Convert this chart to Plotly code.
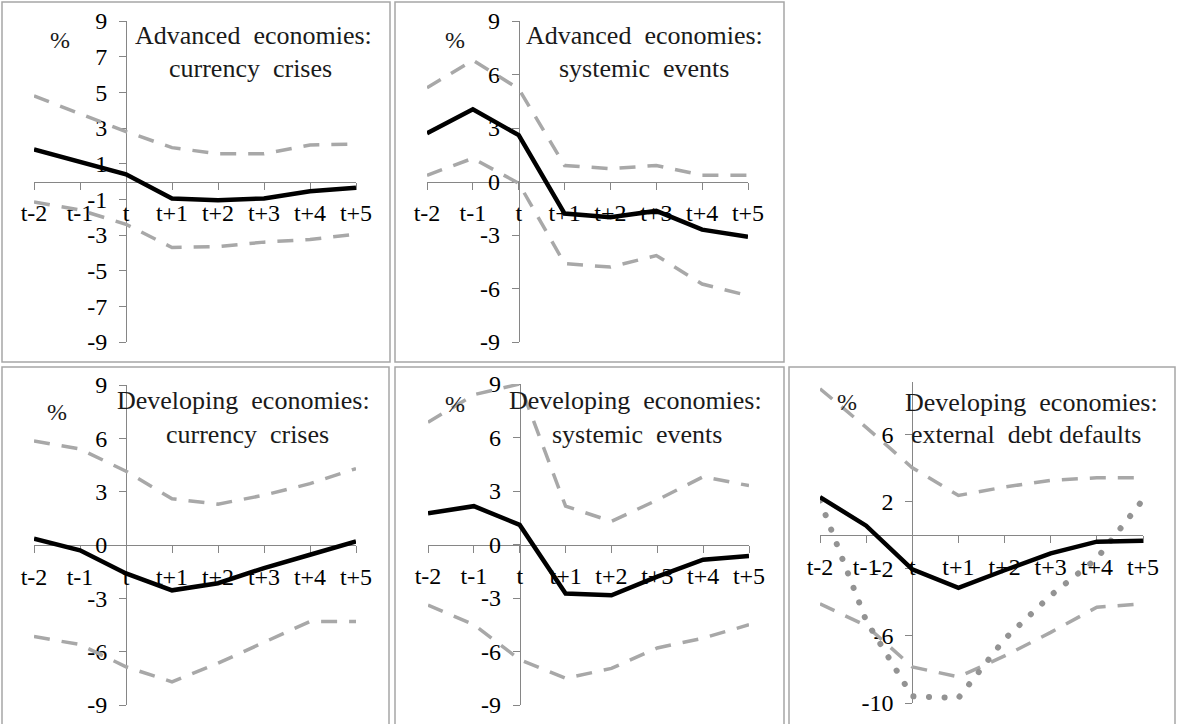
import plotly.graph_objects as go

# --- data (values in %) ---
cats = ["t-2", "t-1", "t", "t+1", "t+2", "t+3", "t+4", "t+5"]

adv_cur_mid = [1.8, 1.1, 0.4, -0.95, -1.05, -0.95, -0.55, -0.35]
adv_cur_hi = [4.8, 3.8, 2.8, 1.9, 1.55, 1.55, 2.05, 2.1]
adv_cur_lo = [-1.15, -1.6, -2.4, -3.7, -3.65, -3.4, -3.25, -2.95]

adv_sys_mid = [2.7, 4.05, 2.6, -1.8, -2.0, -1.65, -2.7, -3.1]
adv_sys_hi = [5.25, 6.8, 5.2, 0.9, 0.72, 0.9, 0.35, 0.35]
adv_sys_lo = [0.35, 1.3, -0.1, -4.6, -4.8, -4.15, -5.75, -6.4]

dev_cur_mid = [0.35, -0.3, -1.6, -2.55, -2.15, -1.3, -0.55, 0.2]
dev_cur_hi = [5.85, 5.4, 4.15, 2.6, 2.3, 2.8, 3.45, 4.3]
dev_cur_lo = [-5.15, -5.6, -6.85, -7.7, -6.65, -5.45, -4.3, -4.3]

dev_sys_mid = [1.75, 2.15, 1.1, -2.75, -2.85, -1.8, -0.85, -0.65]
dev_sys_hi = [6.85, 8.4, 9.0, 2.15, 1.3, 2.5, 3.8, 3.3]
dev_sys_lo = [-3.4, -4.5, -6.45, -7.5, -6.95, -5.8, -5.25, -4.5]

dev_def_mid = [2.25, 0.55, -2.05, -3.15, -2.1, -1.1, -0.4, -0.35]
dev_def_hi = [8.7, 6.4, 4.0, 2.35, 2.85, 3.25, 3.4, 3.4]
dev_def_lo = [-4.1, -5.4, -7.85, -8.45, -7.2, -5.8, -4.3, -4.1]
dev_def_dots = [2.05, -5.1, -9.6, -9.7, -6.2, -3.6, -1.4, 2.1]

# y tick values per panel
ticks_odd = [-9, -7, -5, -3, -1, 1, 3, 5, 7, 9]
ticks_3 = [-9, -6, -3, 0, 3, 6, 9]
ticks_4 = [-10, -6, -2, 2, 6]

titles = [
    ("Advanced\u00a0 economies:", "currency\u00a0 crises"),
    ("Advanced\u00a0 economies:", "systemic\u00a0 events"),
    ("Developing\u00a0 economies:", "currency\u00a0 crises"),
    ("Developing\u00a0 economies:", "systemic\u00a0 events"),
    ("Developing\u00a0 economies:", "external\u00a0 debt defaults"),
]

W, H = 1179, 724
FONT = "Liberation Serif, Times New Roman, serif"


def px(x):
    return x / W


def py(y):
    return 1 - y / H


panels = [
    dict(mid=adv_cur_mid, hi=adv_cur_hi, lo=adv_cur_lo, dots=None,
         yr=[-9, 9], yticks=ticks_odd,
         area=(34, 356, 21, 342), box=(2, 2, 390, 362),
         tpos=[(253, 35), (251, 69)], pct=(60, 40)),
    dict(mid=adv_sys_mid, hi=adv_sys_hi, lo=adv_sys_lo, dots=None,
         yr=[-9, 9], yticks=ticks_3,
         area=(427, 748, 21, 342), box=(395, 2, 784, 362),
         tpos=[(644, 35), (644, 69)], pct=(455, 40)),
    dict(mid=dev_cur_mid, hi=dev_cur_hi, lo=dev_cur_lo, dots=None,
         yr=[-9, 9], yticks=ticks_3,
         area=(34, 356, 385, 705), box=(2, 367, 389, 728),
         tpos=[(243, 400), (247, 434)], pct=(57, 412)),
    dict(mid=dev_sys_mid, hi=dev_sys_hi, lo=dev_sys_lo, dots=None,
         yr=[-9, 9], yticks=ticks_3,
         area=(428, 749, 384, 705), box=(395, 367, 784, 728),
         tpos=[(635, 400), (637, 434)], pct=(455, 404)),
    dict(mid=dev_def_mid, hi=dev_def_hi, lo=dev_def_lo, dots=dev_def_dots,
         yr=[-10, 9.1], yticks=ticks_4,
         area=(820, 1143, 382, 703), box=(789, 367, 1175, 728),
         tpos=[(1031, 402), (1026, 434)], pct=(847, 402)),
]

fig = go.Figure()
shapes, annotations = [], []
axis_col = "#868686"

for i, p in enumerate(panels, start=1):
    xa, ya = f"x{i}", f"y{i}"
    for vals, color, dash, width in [
        (p["hi"], "#a8a8a8", "16px,12px", 3.5),
        (p["lo"], "#a8a8a8", "16px,12px", 3.5),
        (p["dots"], "#939393", "6px,10px", 6),
        (p["mid"], "#000000", "solid", 4.5),
    ]:
        if vals is None:
            continue
        fig.add_trace(go.Scatter(
            x=cats, y=vals, mode="lines", xaxis=xa, yaxis=ya,
            line=dict(color=color, width=width, dash=dash),
            showlegend=False, hoverinfo="skip",
        ))

    x0, x1, yt, yb = p["area"]
    lo_r, hi_r = p["yr"]
    # y axis crosses at category "t", x axis crosses at 0
    yaxis_x = px(x0 + (x1 - x0) * cats.index("t") / (len(cats) - 1))
    zero_y = py(yb) + (py(yt) - py(yb)) * (0 - lo_r) / (hi_r - lo_r)

    fig.layout[f"xaxis{i}"] = dict(
        type="category", range=[0, len(cats) - 1],
        domain=[px(x0), px(x1)], anchor="free", position=zero_y,
        showline=True, linecolor=axis_col, linewidth=1,
        ticks="outside", ticklen=7, tickcolor=axis_col,
        ticklabelstandoff=3, showgrid=False, zeroline=False,
        tickfont=dict(family=FONT, size=24, color="black"),
        layer="below traces", fixedrange=True, automargin=False,
    )
    fig.layout[f"yaxis{i}"] = dict(
        range=[lo_r, hi_r], domain=[py(yb), py(yt)],
        anchor="free", position=yaxis_x,
        tickmode="array", tickvals=p["yticks"], ticktext=[str(v) for v in p["yticks"]],
        showline=True, linecolor=axis_col, linewidth=1,
        ticks="outside", ticklen=7, tickcolor=axis_col,
        ticklabelstandoff=7, showgrid=False, zeroline=False,
        tickfont=dict(family=FONT, size=24, color="black"),
        layer="below traces", fixedrange=True, automargin=False,
    )

    bx0, by0, bx1, by1 = p["box"]
    shapes.append(dict(type="rect", xref="paper", yref="paper",
                       x0=px(bx0), x1=px(bx1), y0=py(by1), y1=py(by0),
                       line=dict(color="#a6a6a6", width=1.5), layer="below"))

    for text, (tx, ty) in zip(titles[i - 1], p["tpos"]):
        annotations.append(dict(text=text, x=px(tx), y=py(ty), xref="paper", yref="paper",
                                xanchor="center", yanchor="middle", showarrow=False,
                                font=dict(family=FONT, size=26, color="#1a1a1a")))
    annotations.append(dict(text="%", x=px(p["pct"][0]), y=py(p["pct"][1]),
                            xref="paper", yref="paper", xanchor="center", yanchor="middle",
                            showarrow=False, font=dict(family=FONT, size=24, color="#1a1a1a")))

fig.update_layout(
    width=W, height=H,
    margin=dict(l=0, r=0, t=0, b=0, pad=0, autoexpand=False),
    paper_bgcolor="white", plot_bgcolor="white",
    shapes=shapes, annotations=annotations,
    showlegend=False,
)

# no page margin; round caps for the dotted series
post = """
document.body.style.margin = '0';
var gd = document.getElementById('{plot_id}');
function roundDots(){
  gd.querySelectorAll('path.js-line').forEach(function(p){
    var d = p.style.strokeDasharray || '';
    if(d.indexOf('6px') === 0){ p.style.strokeLinecap = 'round'; p.style.strokeDasharray = '0.1px, 15.5px'; }
  });
}
roundDots();
gd.on('plotly_afterplot', roundDots);
"""

fig.write_html("out.html", post_script=post, config={"displayModeBar": False})
